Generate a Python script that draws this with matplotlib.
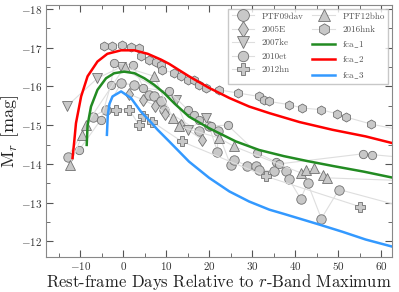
import matplotlib
matplotlib.use('Agg')
import matplotlib.pyplot as plt
from matplotlib.ticker import MultipleLocator

plt.rcParams.update({'font.family': 'serif',
                     'font.serif': ['cmr10'],
                     'mathtext.fontset': 'cm',
                     'axes.formatter.use_mathtext': True,
                     'axes.unicode_minus': True})

# photometry of the comparison objects (days, M_r)
ptf09dav_d = [-12.9, -7.1, -4.0, -0.5, 2.6, 6.0, 7.2, 8.8, 9.5, 17.7, 20.0, 21.9, 22.0, 25.0, 25.8,
              28.9, 30.8, 31.6, 35.1, 37.8, 38.6, 41.3, 42.9, 46.1, 50.2, 70.0]
ptf09dav_m = [-14.19, -15.22, -15.4, -16.08, -16.04, -15.78, -15.74, -15.61, -15.4, -14.84, -14.97, -14.32,
              -14.84, -13.96, -14.11, -13.94, -13.94, -13.85, -13.81, -13.83, -13.6, -13.1, -13.51, -12.59,
              -13.34, -12.75]

sn2005e_d = [1.4, 4.7, 7.5, 9.8, 13.5, 18.4]
sn2005e_m = [-15.8, -15.65, -15.5, -15.3, -15.0, -14.62]

sn2007ke_d = [-13.0, -6.0, -0.5, 12.2, 15.0, 19.2]
sn2007ke_m = [-15.5, -16.21, -16.5, -15.65, -14.88, -15.18]

sn2010et_d = [-10.2, -5.2, -2.9, -2.1, 2.2, 4.7, 10.7, 15.0, 16.5, 17.7, 20.4, 24.3, 31.2, 35.5, 36.3,
              55.7, 57.8, 72.0]
sn2010et_m = [-14.37, -15.14, -16.04, -16.6, -16.56, -15.96, -15.87, -15.4, -15.27, -15.14, -14.98, -15.0,
              -14.28, -14.05, -14.0, -14.26, -14.24, -14.1]

sn2012hn_d = [-1.7, 1.4, 3.7, 4.5, 6.7, 13.6, 33.2, 55.0]
sn2012hn_m = [-15.4, -15.4, -15.0, -15.24, -15.09, -14.58, -13.68, -12.9]

ptf12bho_d = [-12.4, -9.5, -8.7, 0.3, 7.2, 11.5, 13.0, 22.3, 25.8, 41.3, 42.5, 44.4, 46.4, 47.5, 70.0]
ptf12bho_m = [-13.98, -14.75, -15.0, -16.5, -16.26, -15.18, -14.97, -14.67, -14.45, -13.77, -13.85,
              -13.89, -13.72, -13.64, -13.55]

sn2016hnk_d = [-4.4, -2.5, -0.2, 1.9, 3.7, 4.1, 6.0, 7.6, 8.9, 9.1, 11.9, 13.4, 15.0, 16.5, 17.7, 19.2,
               22.3, 26.6, 31.6, 32.8, 34.0, 38.6, 41.7, 46.0, 49.8, 51.8, 57.6, 70.0]
sn2016hnk_m = [-17.03, -17.05, -17.07, -17.01, -16.99, -16.79, -16.69, -16.62, -16.56, -16.43, -16.34,
               -16.26, -16.17, -16.17, -16.04, -15.96, -15.91, -15.83, -15.74, -15.65, -15.61, -15.53,
               -15.44, -15.40, -15.29, -15.21, -15.03, -14.75]

# model light curves
fca1_d = [-8.5, -8.3, -7.5, -6.0, -4.0, -2.1, 0.2, 2.6, 4.9, 7.2, 9.5, 12.0, 15.3, 20.0, 26.2, 31.6,
          37.4, 43.0, 49.1, 56.0, 62.5]
fca1_m = [-14.49, -15.0, -15.48, -15.91, -16.21, -16.34, -16.38, -16.34, -16.21, -16.04, -15.83, -15.55,
          -15.22, -14.92, -14.58, -14.36, -14.2, -14.07, -13.94, -13.8, -13.65]

fca2_d = [-11.8, -11.4, -11.0, -9.8, -8.3, -6.0, -3.7, -0.5, 2.6, 5.7, 8.8, 10.7, 15.3, 20.0, 24.7,
          29.3, 34.0, 41.0, 48.7, 56.4, 62.5]
fca2_m = [-14.15, -14.58, -15.05, -15.74, -16.26, -16.64, -16.84, -16.93, -16.93, -16.84, -16.69, -16.58,
          -16.26, -15.96, -15.7, -15.48, -15.31, -15.08, -14.88, -14.71, -14.54]

fca3_d = [-3.8, -3.6, -3.2, -2.5, -0.5, 1.8, 4.1, 6.4, 8.0, 10.7, 15.3, 20.0, 24.7, 29.3, 34.0, 37.4,
          45.2, 51.0, 56.4, 62.5]
fca3_m = [-14.75, -15.25, -15.55, -15.74, -15.87, -15.7, -15.35, -15.08, -14.88, -14.58, -14.06, -13.64,
          -13.29, -13.03, -12.82, -12.71, -12.45, -12.25, -12.05, -11.87]

objects = [('PTF09dav', ptf09dav_d, ptf09dav_m, 'o', 6.8),
           ('2005E', sn2005e_d, sn2005e_m, 'd', 6.5),
           ('2007ke', sn2007ke_d, sn2007ke_m, 'v', 6.5),
           ('2010et', sn2010et_d, sn2010et_m, 'o', 6.0),
           ('2012hn', sn2012hn_d, sn2012hn_m, 'P', 6.5),
           ('PTF12bho', ptf12bho_d, ptf12bho_m, '^', 6.5),
           ('2016hnk', sn2016hnk_d, sn2016hnk_m, 'h', 6.5)]

fig = plt.figure(figsize=(3.99, 2.92), dpi=100)
ax = fig.add_axes([0.115, 0.12, 0.867, 0.863])

handles = []
for name, d, m, mk, ms in objects:
    h, = ax.plot(d, m, '-', color='#dedede', lw=0.8, marker=mk, ms=ms,
                 mfc='#c8c8c8', mec='#707070', mew=0.6, label=name, zorder=2)
    handles.append(h)

h1, = ax.plot(fca1_d, fca1_m, color='#228b22', lw=1.8, label=r'fca$\_$1', zorder=3)
h2, = ax.plot(fca2_d, fca2_m, color='#ff0000', lw=1.8, label=r'fca$\_$2', zorder=3)
h3, = ax.plot(fca3_d, fca3_m, color='#3399ff', lw=1.8, label=r'fca$\_$3', zorder=3)
handles += [h1, h2, h3]

ax.set_xlim(-18, 62.5)
ax.set_ylim(-11.6, -18.1)
ax.xaxis.set_major_locator(MultipleLocator(10))
ax.xaxis.set_minor_locator(MultipleLocator(5))
ax.yaxis.set_major_locator(MultipleLocator(1))
ax.yaxis.set_minor_locator(MultipleLocator(0.5))
ax.tick_params(which='both', direction='in', top=True, right=True, colors='#555555',
               labelsize=8, labelcolor='#333333')
ax.tick_params(which='major', length=5, pad=2.5)
ax.tick_params(which='minor', length=3)
for s in ax.spines.values():
    s.set_color('#888888')

ax.set_xlabel('Rest-frame Days Relative to $r$-Band Maximum', fontsize=12, color='#222222', labelpad=0)
ax.set_ylabel('M$_r$ [mag]', fontsize=13, color='#222222', labelpad=0)

leg = ax.legend(handles=handles, ncol=2, loc='upper right', fontsize=6.5, frameon=True,
                fancybox=False, edgecolor='#bbbbbb', handlelength=2.5, columnspacing=1.0,
                labelspacing=0.55, borderaxespad=0.4, markerscale=1.25)
for t in leg.get_texts():
    t.set_color('#555555')

plt.savefig('out.png', dpi=100)
